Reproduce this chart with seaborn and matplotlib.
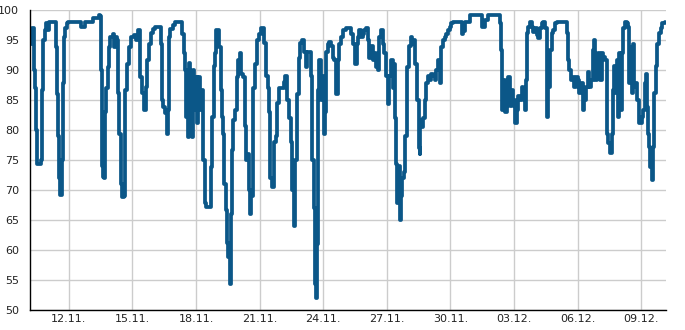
import numpy as np
import pandas as pd
import matplotlib
matplotlib.use("Agg")
import matplotlib.pyplot as plt
import matplotlib.dates as mdates
from matplotlib.ticker import MultipleLocator, FixedLocator
import seaborn as sns

# ---- data (hours since 10.11. 04:00, relative humidity %) ----
start = "2023-11-10 04:00"
span_hours = 720

hours = [
    0, 1, 2, 4, 5, 6, 7, 8, 11, 13, 14, 15, 17, 18, 20, 22, 28, 30, 31, 32,
    33, 34, 35, 36, 37, 38, 40, 42, 43, 56, 58, 61, 62, 69, 71, 77, 78, 79, 80, 81,
    82, 83, 84, 85, 86, 88, 89, 91, 94, 95, 97, 99, 100, 101, 103, 104, 106, 107, 108, 110,
    112, 114, 116, 118, 120, 122, 124, 125, 127, 129, 131, 133, 135, 137, 139, 142, 146, 148, 149, 151,
    153, 155, 156, 157, 159, 162, 164, 170, 172, 174, 175, 177, 178, 179, 180, 181, 183, 184, 186, 187,
    189, 190, 192, 193, 195, 196, 198, 199, 203, 205, 206, 208, 209, 211, 213, 214, 216, 217, 219, 220,
    222, 223, 224, 226, 227, 228, 229, 230, 232, 234, 236, 238, 239, 241, 243, 244, 246, 248, 249, 250,
    252, 253, 255, 257, 259, 261, 263, 265, 267, 269, 271, 272, 274, 276, 278, 280, 282, 286, 288, 289,
    291, 293, 295, 297, 299, 300, 302, 305, 306, 308, 310, 312, 314, 316, 318, 319.6, 321.5, 322.6, 323.4, 324.1,
    325.2, 325.7, 326.4, 327.2, 328.3, 329.4, 331.4, 333.2, 334.3, 335.1, 337.0, 338.8, 340.8, 342.7, 344.5, 346.4, 348.3, 350.2, 352.1, 354.0,
    357.7, 361.5, 363.4, 365.3, 368.3, 369.9, 371.0, 372.8, 374.7, 376.6, 378.5, 380.4, 382.3, 384.1, 386.0, 388.0, 389.8, 391.7, 393.6, 395.4,
    397.4, 399.3, 401.1, 403.0, 405.0, 406.8, 409.0, 410.9, 412.1, 413.6, 414.7, 415.8, 417.4, 418.5, 419.7, 421.1, 423.4, 424.9, 427.1, 428.7,
    431.0, 432.5, 434.7, 436.2, 438.1, 440.0, 441.0, 441.9, 443.0, 444.9, 446.8, 448.7, 450.6, 452.5, 454.3, 456.2, 458.2, 460.0, 461.9, 463.8,
    465.6, 467.6, 469.5, 471.3, 473.2, 475.5, 477.0, 478.9, 487.9, 488.7, 490.2, 491.9, 495.9, 498.1, 509.4, 511.4, 513.2, 515.1, 517.0, 518.5,
    529.8, 532.1, 532.9, 534.0, 534.6, 535.8, 537.7, 539.7, 541.5, 543.4, 545.3, 547.2, 549.1, 551.0, 552.8, 554.7, 556.7, 558.5, 560.4, 561.5,
    563.0, 564.1, 566.1, 568.0, 569.8, 571.7, 573.6, 575.4, 577.4, 579.3, 581.1, 583.0, 585.0, 585.6, 586.8, 588.7, 590.6, 592.4, 594.4, 596.3,
    605.7, 607.6, 608.7, 610.5, 612.1, 614.4, 616.2, 618.1, 620.0, 621.9, 623.8, 625.7, 627.5, 629.4, 631.4, 633.2, 635.1, 637.0, 638.5, 640.0,
    641.6, 643.4, 645.3, 647.2, 649.1, 651.0, 652.9, 654.7, 656.6, 658.6, 659.7, 661.2, 662.6, 664.2, 666.0, 667.1, 668.7, 669.9, 671.7, 673.6,
    675.5, 677.3, 678.5, 680.1, 681.2, 683.0, 684.1, 686.0, 687.5, 689.1, 690.6, 692.5, 694.3, 696.2, 697.4, 698.8, 699.9, 701.1, 701.9, 703.8,
    705.6, 706.8, 708.7, 710.2, 712.1, 714.0, 715.8, 718.9,
]

humidity = [
    94.5, 94.4, 97, 96, 90, 87, 80, 74.4, 74.4, 75, 86.7, 95, 96.7, 97.8, 96.7, 98, 98, 93.9, 86, 79,
    72, 69.2, 69.2, 75, 87.8, 95.5, 97, 97.8, 98, 98, 97.2, 97.2, 98, 98, 98.6, 98.6, 99.2, 99, 90, 75,
    74, 72.2, 72, 83, 87, 90.5, 93.9, 95.5, 96, 93.9, 95.5, 95, 86.1, 79.4, 71, 68.9, 69, 79.4, 86.7, 91,
    93.9, 95.5, 95.5, 95.8, 95, 96.7, 96.1, 88.9, 86.1, 83.3, 87.2, 91.7, 94.4, 96.1, 96.9, 97.2, 97.2, 94.4, 85, 83.9,
    82.8, 79.4, 83.3, 95.5, 96.9, 97.5, 98, 98, 96, 92.8, 90, 82.2, 89.4, 78.9, 91.1, 86.1, 78.9, 90, 83.3, 88.9,
    81.1, 88.9, 83.3, 83.3, 86.7, 75, 67.8, 67.2, 67.2, 73.9, 82.2, 90.6, 92.8, 96.7, 96.7, 93.9, 86.7, 82.2, 79.4, 71,
    66.7, 61.1, 58.9, 54.4, 54.4, 66, 76.7, 81.7, 83.3, 88.9, 91.7, 92.8, 89.4, 88.9, 80.6, 75, 76, 70, 66, 69,
    77, 87, 91, 95, 96, 97, 97, 94.5, 89, 87, 83, 72, 70.5, 78, 79, 84.5, 87, 87, 88, 89,
    85, 82, 78, 70, 64, 75, 86, 92, 94.5, 95, 93, 90.5, 93, 93, 89, 75, 67, 54.4, 52, 52,
    61, 74, 86.7, 91.7, 91.7, 85, 89, 79.4, 83, 93, 94.4, 94.7, 94, 92, 91.7, 86, 91.7, 94.4, 95.5, 96.7,
    97, 97, 96, 94.4, 91, 94.4, 95.5, 96.7, 95.5, 96, 96.7, 97, 95, 92, 94, 91.7, 92.8, 90.5, 90, 95.5,
    96.7, 94.4, 92.8, 89, 84.4, 89, 91.7, 87, 91, 82, 74.4, 67.8, 74, 65, 69, 72, 73, 79, 90.5, 94,
    95.5, 94.4, 95, 91, 85, 77, 76, 81.7, 80.5, 82, 85, 87.8, 89, 88.3, 89.4, 89, 88.3, 90, 91.7, 87.8,
    93.9, 95, 95.5, 96, 96.7, 97.2, 97.8, 98, 98, 96, 96.5, 98, 98, 99.2, 99.2, 97.2, 97.2, 98.3, 98.3, 99.2,
    99.2, 97.8, 93.3, 89.7, 83.3, 88.3, 83, 86.7, 88.9, 84, 86.7, 85, 81.1, 83.3, 85.6, 85, 87.2, 85.6, 83.3, 88.3,
    96.1, 97.2, 98, 97.2, 96.4, 97, 95.8, 95.3, 97, 97.8, 98, 97, 92, 82.2, 87.2, 93.3, 96.1, 96.7, 97.8, 98,
    98, 96.1, 91.7, 90, 88.3, 88.9, 87.2, 88.9, 88.3, 86.1, 87.8, 83.3, 85, 87.2, 89.7, 87.2, 88.3, 93.3, 95, 88.3,
    90.6, 92.8, 88.3, 92.8, 92.2, 91.7, 79.4, 77.8, 76.1, 79.4, 86.7, 90.6, 86.1, 91.7, 82.2, 92.8, 83.3, 92.8, 97, 98,
    97.8, 97.2, 87.8, 93.9, 86.1, 94.4, 87.2, 87.8, 85, 81.1, 81.1, 82.2, 83.3, 87.8, 89.4, 83.9, 79.4, 77.2, 73.9, 71.7,
    77.2, 86.1, 90.6, 94.4, 96.1, 97, 97.8, 98,
]

tick_dates = ["2023-11-12", "2023-11-15", "2023-11-18", "2023-11-21", "2023-11-24",
              "2023-11-27", "2023-11-30", "2023-12-03", "2023-12-06", "2023-12-09"]
y_min, y_max = 50, 100

# ---- build frame ----
t0 = pd.Timestamp(start)
df = pd.DataFrame({
    "time": t0 + pd.to_timedelta(hours, unit="h"),
    "humidity": humidity,
})

sns.set_style("white")
plt.rcParams["font.family"] = ["DejaVu Sans"]

fig = plt.figure(figsize=(6.85, 3.30), dpi=100)
ax = fig.add_axes([30 / 685, 20 / 330, 636 / 685, 300 / 330])

sns.lineplot(data=df, x="time", y="humidity", ax=ax, color="#0b5788",
             linewidth=2.7, estimator=None, sort=False, drawstyle="steps-post")

ax.set_xlim(t0, t0 + pd.Timedelta(hours=span_hours))
ax.set_ylim(y_min, y_max)

ax.xaxis.set_major_locator(FixedLocator(mdates.date2num(pd.to_datetime(tick_dates))))
ax.xaxis.set_major_formatter(mdates.DateFormatter("%d.%m."))
ax.yaxis.set_major_locator(MultipleLocator(5))
ax.yaxis.set_minor_locator(MultipleLocator(1))

ax.grid(True, which="major", color="#cccccc", linewidth=1.0)
ax.set_axisbelow(True)

for side in ("top", "right"):
    ax.spines[side].set_visible(False)
for side in ("left", "bottom"):
    ax.spines[side].set_color("black")
    ax.spines[side].set_linewidth(1.0)

ax.tick_params(axis="y", which="major", direction="in", length=4, width=1,
               color="black", labelsize=8, pad=8, labelcolor="#222222")
ax.tick_params(axis="y", which="minor", direction="in", length=2.5, width=0.8,
               color="black")
ax.tick_params(axis="x", which="major", direction="in", length=4, width=1,
               color="black", labelsize=8, pad=3, labelcolor="#222222")

ax.set_xlabel("")
ax.set_ylabel("")

fig.savefig("out.png", dpi=100)
